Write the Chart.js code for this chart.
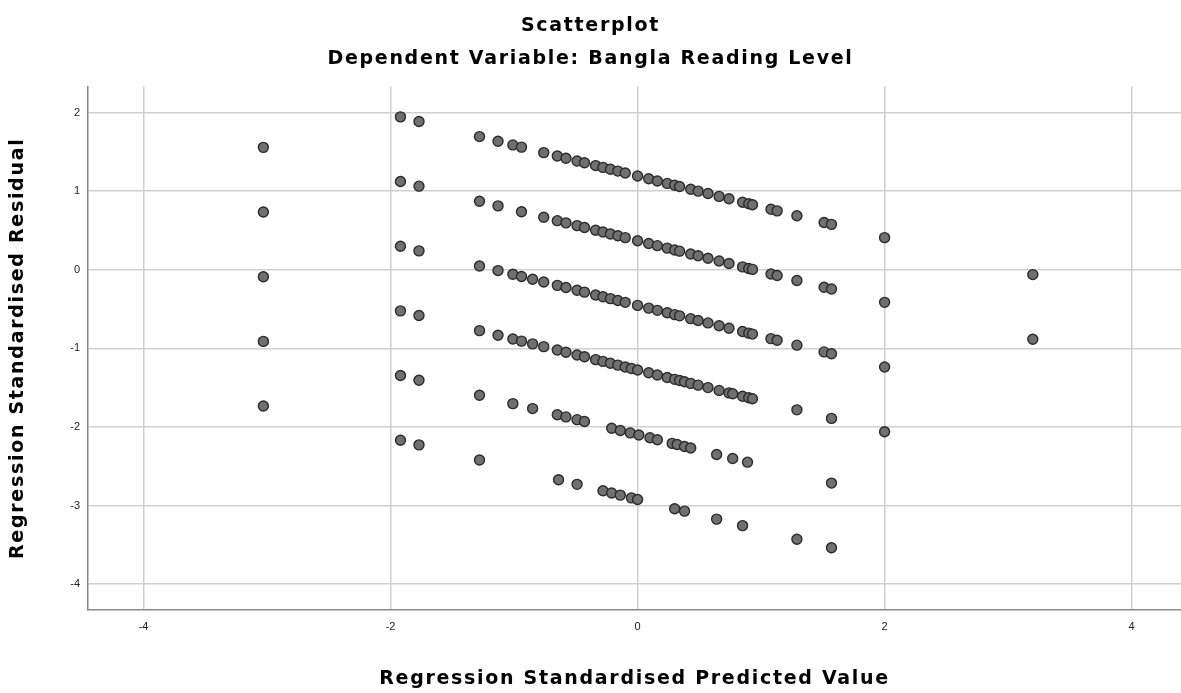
<!DOCTYPE html>
<html>
<head>
<meta charset="utf-8">
<script src="https://cdn.jsdelivr.net/npm/chart.js@4/dist/chart.umd.min.js"></script>
<style>
  html, body { margin: 0; padding: 0; background: #ffffff; overflow: hidden; }
  #wrap { width: 1181px; height: 693px; position: relative; }
</style>
</head>
<body>
<div id="wrap"><canvas id="c"></canvas></div>
<script>
// ---- Data (x = standardised predicted, y = standardised residual) ----
const rowA_x = [-1.92,-1.77,-1.28,-1.13,-1.01,-0.94,-0.76,-0.65,-0.58,-0.49,-0.43,-0.34,-0.28,-0.22,-0.16,-0.10,0.00,0.09,0.16,0.24,0.30,0.34,0.43,0.49,0.57,0.66,0.74,0.85,0.90,0.93,1.08,1.13,1.29,1.51,1.57,2.00,3.20];
const rowA_y = [1.945,1.886,1.694,1.635,1.588,1.560,1.490,1.447,1.419,1.384,1.361,1.325,1.302,1.278,1.255,1.231,1.192,1.157,1.129,1.098,1.074,1.059,1.023,1.000,0.969,0.933,0.902,0.859,0.839,0.827,0.769,0.749,0.686,0.600,0.577,0.408,-0.062];

const rowB_x = [-3.03,-1.92,-1.77,-1.28,-1.13,-0.94,-0.76,-0.65,-0.58,-0.49,-0.43,-0.34,-0.28,-0.22,-0.16,-0.10,0.00,0.09,0.16,0.24,0.30,0.34,0.43,0.49,0.57,0.66,0.74,0.85,0.90,0.93,1.08,1.13,1.29,1.51,1.57,2.00,3.20];
const rowB_y = [1.557,1.122,1.063,0.871,0.812,0.737,0.667,0.624,0.596,0.561,0.538,0.502,0.479,0.455,0.432,0.408,0.369,0.334,0.306,0.275,0.251,0.236,0.200,0.177,0.146,0.110,0.079,0.036,0.016,0.004,-0.054,-0.074,-0.137,-0.223,-0.246,-0.415,-0.885];

const rowC_x = [-3.03,-1.92,-1.77,-1.28,-1.13,-1.01,-0.94,-0.85,-0.76,-0.65,-0.58,-0.49,-0.43,-0.34,-0.28,-0.22,-0.16,-0.10,0.00,0.09,0.16,0.24,0.30,0.34,0.43,0.49,0.57,0.66,0.74,0.85,0.90,0.93,1.08,1.13,1.29,1.51,1.57,2.00];
const rowC_y = [0.734,0.299,0.240,0.048,-0.011,-0.058,-0.086,-0.121,-0.156,-0.199,-0.227,-0.262,-0.285,-0.321,-0.344,-0.368,-0.391,-0.415,-0.454,-0.489,-0.517,-0.548,-0.572,-0.587,-0.623,-0.646,-0.677,-0.713,-0.744,-0.787,-0.807,-0.819,-0.877,-0.897,-0.960,-1.046,-1.069,-1.238];

const rowD_x = [-3.03,-1.92,-1.77,-1.28,-1.13,-1.01,-0.94,-0.85,-0.76,-0.65,-0.58,-0.49,-0.43,-0.34,-0.28,-0.22,-0.16,-0.10,-0.05,0.00,0.09,0.16,0.24,0.30,0.34,0.38,0.43,0.49,0.57,0.66,0.74,0.77,0.85,0.90,0.93,1.29,1.57,2.00];
const rowD_y = [-0.089,-0.524,-0.583,-0.775,-0.834,-0.881,-0.909,-0.944,-0.979,-1.022,-1.050,-1.085,-1.108,-1.144,-1.167,-1.191,-1.214,-1.238,-1.257,-1.277,-1.312,-1.340,-1.371,-1.395,-1.410,-1.426,-1.446,-1.469,-1.500,-1.536,-1.567,-1.579,-1.610,-1.630,-1.642,-1.783,-1.892,-2.061];

const rowE_x = [-3.03,-1.92,-1.77,-1.28,-1.01,-0.85,-0.65,-0.58,-0.49,-0.43,-0.21,-0.14,-0.06,0.01,0.10,0.16,0.28,0.32,0.38,0.43,0.64,0.77,0.89,1.57];
const rowE_y = [-0.912,-1.347,-1.406,-1.598,-1.704,-1.767,-1.845,-1.873,-1.908,-1.931,-2.018,-2.045,-2.076,-2.104,-2.139,-2.163,-2.210,-2.225,-2.249,-2.269,-2.351,-2.402,-2.449,-2.715];

const rowF_x = [-3.03,-1.92,-1.77,-1.28,-0.64,-0.49,-0.28,-0.21,-0.14,-0.05,0.00,0.30,0.38,0.64,0.85,1.29,1.57];
const rowF_y = [-1.735,-2.170,-2.229,-2.421,-2.672,-2.731,-2.813,-2.841,-2.868,-2.903,-2.923,-3.041,-3.072,-3.174,-3.256,-3.429,-3.538];

const xTicks = [-4, -2, 0, 2, 4];
const yTicks = [2, 1, 0, -1, -2, -3, -4];

const titleText = "Scatterplot";
const subtitleText = "Dependent Variable: Bangla Reading Level";
const xTitle = "Regression Standardised Predicted Value";
const yTitle = "Regression Standardised Residual";

// ---- Build datasets ----
const rows = [[rowA_x,rowA_y],[rowB_x,rowB_y],[rowC_x,rowC_y],[rowD_x,rowD_y],[rowE_x,rowE_y],[rowF_x,rowF_y]];
const points = [];
rows.forEach(([xs, ys]) => xs.forEach((x, i) => points.push({x: x, y: ys[i]})));

const titleFont = { family: "'DejaVu Sans', sans-serif", size: 19, weight: 'bold' };
const tickFont = { family: "'Liberation Sans', Arial, sans-serif", size: 11 };

// widen the bold headings (drawn before the datasets); tick labels (z:1) are drawn after, without spacing
const spacingPlugin = {
  id: 'spacing',
  beforeDraw(chart) { try { chart.ctx.letterSpacing = '1.7px'; } catch (e) {} },
  afterDatasetsDraw(chart) { try { chart.ctx.letterSpacing = '0px'; } catch (e) {} }
};

new Chart(document.getElementById('c'), {
  type: 'scatter',
  plugins: [spacingPlugin],
  data: {
    datasets: [{
      data: points,
      pointRadius: 5,
      pointHoverRadius: 5,
      backgroundColor: '#707070',
      borderColor: '#2b2b2b',
      borderWidth: 1.4
    }]
  },
  options: {
    responsive: true,
    maintainAspectRatio: false,
    animation: false,
    layout: { autoPadding: false, padding: { left: 0, right: 0, top: 0, bottom: 0 } },
    plugins: {
      legend: { display: false },
      tooltip: { enabled: false },
      title: {
        display: true, text: titleText, color: '#000',
        font: titleFont, padding: { top: 15, bottom: 0 }
      },
      subtitle: {
        display: true, text: subtitleText, color: '#000',
        font: titleFont, padding: { top: 10, bottom: 16 }
      }
    },
    scales: {
      x: {
        type: 'linear', min: -4.45, max: 4.4,
        afterBuildTicks: (s) => { s.ticks = xTicks.map(v => ({ value: v })); },
        afterFit: (s) => { s.height = 83; s.paddingRight = 0; s.paddingLeft = 0; },
        ticks: { font: tickFont, color: '#222', padding: 10, includeBounds: false, z: 1 },
        grid: { color: '#cfcfcf', lineWidth: 1.5, drawTicks: false },
        border: { display: true, color: '#8a8a8a', width: 1.5 },
        title: { display: true, text: xTitle, color: '#000', font: titleFont, padding: { top: 0, bottom: 3 } }
      },
      y: {
        type: 'linear', min: -4.33, max: 2.33,
        afterBuildTicks: (s) => { s.ticks = yTicks.map(v => ({ value: v })); },
        afterFit: (s) => { s.width = 88; s.paddingTop = 0; s.paddingBottom = 0; },
        ticks: { font: tickFont, color: '#222', padding: 8, includeBounds: false, z: 1 },
        grid: { color: '#cfcfcf', lineWidth: 1.5, drawTicks: false },
        border: { display: true, color: '#8a8a8a', width: 1.5 },
        title: { display: true, text: yTitle, color: '#000', font: titleFont, padding: { top: 7, bottom: 0 } }
      }
    }
  }
});
</script>
</body>
</html>
